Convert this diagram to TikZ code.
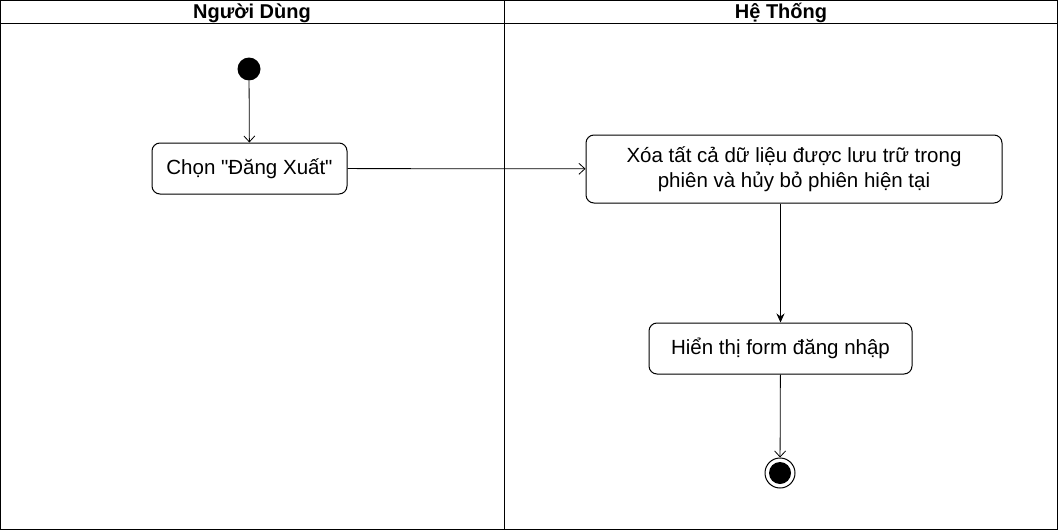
\documentclass[tikz,border=0pt]{standalone}
\usepackage{fontspec}
\setmainfont[Ligatures=TeXOff]{Liberation Sans}
\usetikzlibrary{arrows.meta}
\begin{document}
\begin{tikzpicture}[x=1pt,y=-1pt,
  act/.style={draw=black,line width=1pt,rounded corners=8pt,fill=white,font=\fontsize{20.5}{25}\selectfont,align=center,inner sep=0pt},
  lane/.style={draw=black,line width=1pt},
  hdr/.style={font=\bfseries\fontsize{20}{24}\selectfont},
  flowopen/.style={draw=black,line width=0.8pt,-{Straight Barb[length=6pt,width=11pt]}},
  flowfill/.style={draw=black,line width=0.8pt,-{Stealth[length=9pt,width=8pt]}}]
\useasboundingbox (0,0) rectangle (1058,530);
% swimlanes
\draw[lane] (0.5,0.5) rectangle (1057.5,529.5);
\draw[lane] (0.5,23.5) -- (1057.5,23.5);
\draw[lane] (504.5,0.5) -- (504.5,529.5);
\node[hdr] (h1) at (252,13) {Người Dùng};
\node[hdr] (h2) at (781,13) {Hệ Thống};
% nodes
\node[circle,fill=black,minimum size=23pt,inner sep=0pt] (start) at (249,69) {};
\node[act,minimum width=195pt,minimum height=51pt] (a1) at (249.5,168.5) {Chọn "Đăng Xuất"};
\node[act,minimum width=416pt,minimum height=68pt] (a2) at (794,169) {Xóa tất cả dữ liệu được lưu trữ trong\\phiên và hủy bỏ phiên hiện tại};
\node[act,minimum width=263pt,minimum height=51pt] (a3) at (780.5,348.5) {Hiển thị form đăng nhập};
\node[circle,draw=black,line width=1pt,fill=white,minimum size=30pt,inner sep=0pt] (end) at (780,473) {};
\node[circle,fill=black,minimum size=22pt,inner sep=0pt] (endin) at (end.center) {};
% connectors
\draw[flowopen] (start) -- (a1);
\draw[flowopen] (a1) -- (a2);
\draw[flowfill] (a2.south -| a3) -- (a3);
\draw[flowopen] (a3) -- (end);
\end{tikzpicture}
\end{document}
